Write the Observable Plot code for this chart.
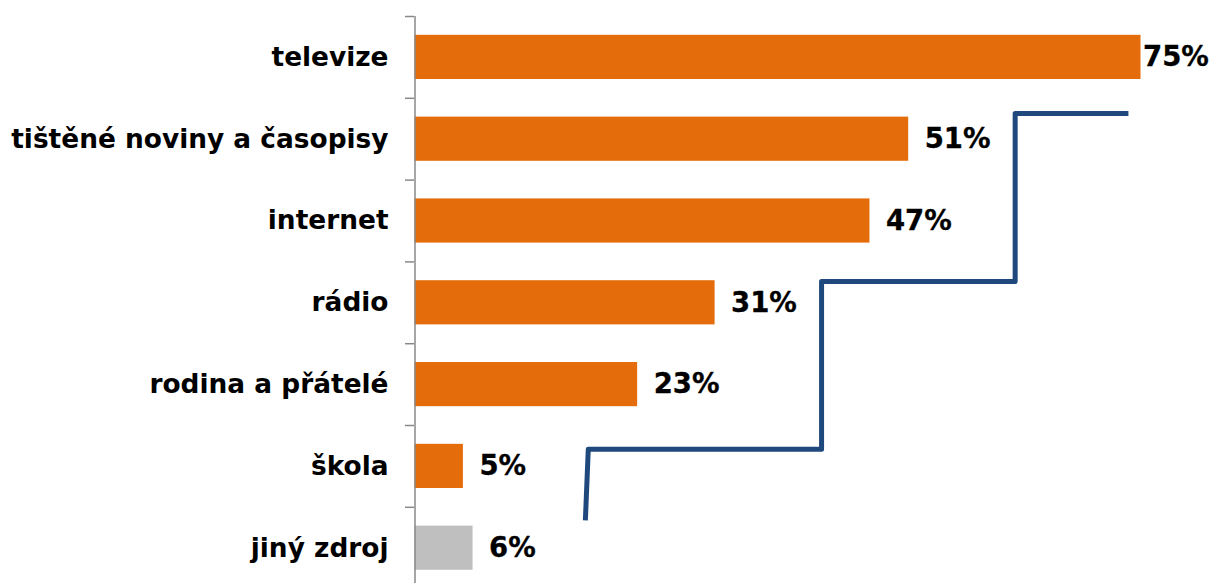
<!DOCTYPE html>
<html>
<head>
<meta charset="utf-8">
<script src="https://cdn.jsdelivr.net/npm/d3@7"></script>
<script src="https://cdn.jsdelivr.net/npm/@observablehq/plot@0.6"></script>
<style>
  body { margin: 0; background: #fff; }
  #chart svg { overflow: visible; }
</style>
</head>
<body>
<div id="chart"></div>
<script>
const categories = ["televize", "tištěné noviny a časopisy", "internet", "rádio", "rodina a přátelé", "škola", "jiný zdroj"];
const values = [75, 51, 47, 31, 23, 5, 6];
const colors = ["#E46C0A", "#E46C0A", "#E46C0A", "#E46C0A", "#E46C0A", "#E46C0A", "#BFBFBF"];
const valueLabels = ["75%", "51%", "47%", "31%", "23%", "5%", "6%"];

// decorative step line, in value (%) units and category-index units
const stepX = [17.6, 17.9, 42.0, 42.0, 62.0, 62.0, 73.7];
const stepY = [5.66, 4.79, 4.79, 2.74, 2.74, 0.685, 0.685];

const bars = categories.map((c, i) => ({cat: c, i, value: values[i], color: colors[i], label: valueLabels[i]}));
const step = stepX.map((x, k) => ({x, y: stepY[k]}));
const boundaries = d3.range(categories.length + 1).map(i => i - 0.5);
const font = "'DejaVu Sans', Verdana, sans-serif";

const chart = Plot.plot({
  width: 1213,
  height: 583,
  marginLeft: 414,
  marginRight: 0,
  marginTop: 16,
  marginBottom: 0,
  style: {fontFamily: font, background: "#fff"},
  x: {domain: [0, 82], range: [414.5, 414.5 + 82 * 9.68], axis: null},
  y: {domain: [-0.5, categories.length - 0.5], range: [16, 16 + categories.length * 81.8], axis: null},
  marks: [
    Plot.rect(bars, {
      x1: 0, x2: "value",
      y1: d => d.i - 0.27, y2: d => d.i + 0.27,
      fill: "color"
    }),
    Plot.ruleX([0], {y1: -0.5, y2: categories.length - 0.5, stroke: "#888", strokeWidth: 1.5}),
    Plot.axisY({ticks: boundaries, tickSize: 9, tickFormat: () => "", stroke: "#888", strokeWidth: 1.5}),
    Plot.axisY({
      ticks: d3.range(categories.length),
      tickSize: 0,
      tickPadding: 26,
      tickFormat: i => categories[i],
      fontSize: 26.4,
      fontWeight: "bold",
      fill: "#000",
      stroke: "#000",
      strokeWidth: 0.3
    }),
    Plot.text(bars.filter(d => d.i === 0), {
      x: "value", y: "i", text: "label", textAnchor: "start", dx: 2,
      fontSize: 27.5, fontWeight: "bold", fill: "#000", stroke: "#000", strokeWidth: 0.3
    }),
    Plot.text(bars.filter(d => d.i !== 0), {
      x: "value", y: "i", text: "label", textAnchor: "start", dx: 16,
      fontSize: 27.5, fontWeight: "bold", fill: "#000", stroke: "#000", strokeWidth: 0.3
    }),
    Plot.line(step, {x: "x", y: "y", stroke: "#1F497D", strokeWidth: 5, strokeLinejoin: "round", strokeLinecap: "butt", curve: "linear"})
  ]
});
document.getElementById("chart").append(chart);
</script>
</body>
</html>
